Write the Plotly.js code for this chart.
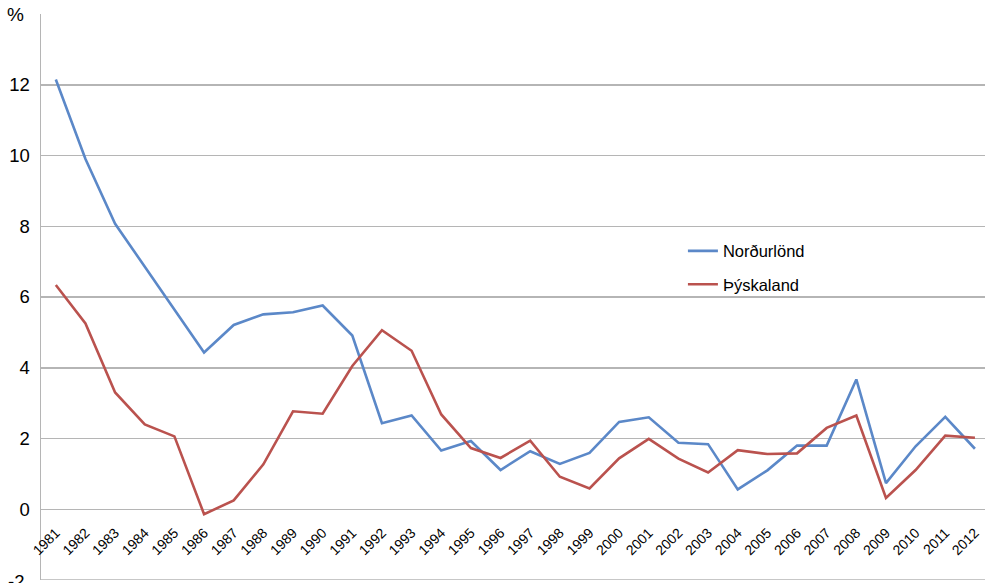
<!DOCTYPE html>
<html>
<head>
<meta charset="utf-8">
<script src="https://cdn.plot.ly/plotly-3.0.1.min.js"></script>
<style>html,body{margin:0;padding:0;background:#fff;}#chart{width:985px;height:583px;}</style>
</head>
<body>
<div id="chart"></div>
<script>
var years = [1981,1982,1983,1984,1985,1986,1987,1988,1989,1990,1991,1992,1993,1994,1995,1996,1997,1998,1999,2000,2001,2002,2003,2004,2005,2006,2007,2008,2009,2010,2011,2012];
var yearLabels = years.map(String);
var nordurlond = [12.15,9.9,8.07,6.85,5.65,4.43,5.21,5.51,5.57,5.76,4.91,2.43,2.65,1.66,1.93,1.11,1.64,1.28,1.59,2.47,2.6,1.88,1.84,0.56,1.1,1.8,1.8,3.67,0.74,1.78,2.61,1.71];
var thyskaland = [6.34,5.25,3.3,2.4,2.06,-0.14,0.25,1.27,2.77,2.7,4.05,5.06,4.48,2.68,1.73,1.45,1.94,0.92,0.59,1.44,1.99,1.43,1.04,1.67,1.56,1.58,2.3,2.65,0.32,1.11,2.08,2.02];
var yTicks = [0,2,4,6,8,10,12,14];
var yTickLabels = ['0','2','4','6','8','10','12',''];
var names = ['Norðurlönd','Þýskaland'];

var traces = [
  {x: years, y: nordurlond, name: names[0], legendgroup: 'a', type: 'scatter', mode: 'lines', line: {color: '#5b88c8', width: 2.6}},
  {x: years, y: thyskaland, name: names[1], legendgroup: 'b', type: 'scatter', mode: 'lines', line: {color: '#ba524e', width: 2.6}}
];

var zeroPos = (583 - 3 - 509) / 566;

var layout = {
  width: 985, height: 583,
  margin: {l: 41, r: 0, t: 14, b: 3},
  paper_bgcolor: '#ffffff', plot_bgcolor: '#ffffff',
  font: {family: 'Liberation Sans, Arial, sans-serif', color: '#000'},
  showlegend: true,
  legend: {x: 0.68, y: 0.612, xanchor: 'left', yanchor: 'top', bgcolor: 'rgba(0,0,0,0)',
           font: {size: 16.5, family: 'Liberation Sans, Arial, sans-serif'}, tracegroupgap: 9, itemwidth: 30},
  xaxis: {
    range: [1980.5, 2012.34], tickmode: 'array', tickvals: years, ticktext: yearLabels,
    anchor: 'free', position: zeroPos,
    tickangle: -45, tickfont: {size: 14, family: 'Liberation Sans Narrow, Liberation Sans, Arial'},
    ticklabelstandoff: 12,
    showgrid: false, zeroline: false, showline: false, ticks: '', fixedrange: true, automargin: false
  },
  yaxis: {
    range: [-2, 14], tickmode: 'array', tickvals: yTicks, ticktext: yTickLabels,
    tickfont: {size: 18.5}, showgrid: true, gridcolor: '#b5b5b5', gridwidth: 1.5,
    zeroline: false, showline: true, linecolor: '#b5b5b5', linewidth: 1.5,
    ticks: '', ticklabelstandoff: 6, automargin: false
  },
  shapes: [
    {type: 'line', xref: 'paper', yref: 'y', x0: 0, x1: 1, y0: -2, y1: -2, line: {color: '#b5b5b5', width: 1.5}}
  ],
  annotations: [
    {text: '%', xref: 'paper', yref: 'y', x: -0.016, y: 14, xanchor: 'right', yanchor: 'middle', showarrow: false, font: {size: 19}},
    {text: '-2', xref: 'paper', yref: 'y', x: -0.016, y: -2, xanchor: 'right', yanchor: 'top', yshift: 11, showarrow: false, font: {size: 18.5}}
  ]
};

Plotly.newPlot('chart', traces, layout, {displayModeBar: false, staticPlot: true});
</script>
</body>
</html>
